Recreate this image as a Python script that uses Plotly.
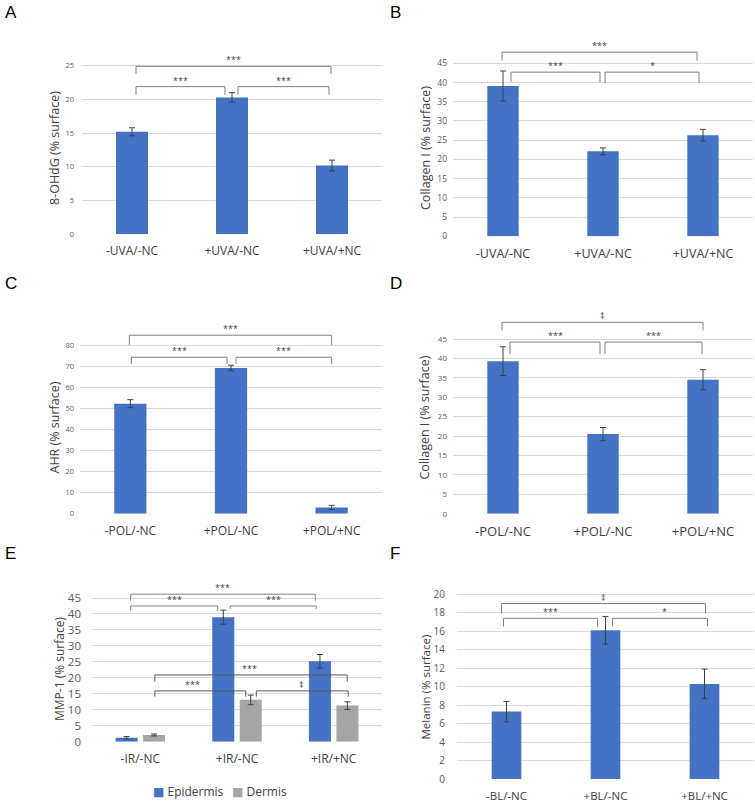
"""Six-panel bar chart with significance brackets."""

import plotly.graph_objects as go

FIG_W, FIG_H = 755, 803
BLUE = "#4472C4"
GREY = "#A5A5A5"
ERR_COLOR = "#404040"
GRID = "#D9D9D9"
TEXT = "#404040"
TICK = "#595959"
FONT = "Open Sans, DejaVu Sans, sans-serif"

# ---------------- data ----------------
uva_cats = ["-UVA/-NC", "+UVA/-NC", "+UVA/+NC"]
ohdg_vals = [15.2, 20.3, 10.2]
ohdg_err = [0.6, 0.7, 0.8]

col_uva_vals = [39.1, 22.1, 26.3]
col_uva_err = [3.9, 0.9, 1.5]

pol_cats = ["-POL/-NC", "+POL/-NC", "+POL/+NC"]
ahr_vals = [52.4, 69.4, 3.0]
ahr_err = [1.9, 1.3, 1.0]

col_pol_vals = [39.3, 20.5, 34.5]
col_pol_err = [3.7, 1.7, 2.6]

ir_cats = ["-IR/-NC", "+IR/-NC", "+IR/+NC"]
mmp_epi_vals = [1.2, 39.0, 25.2]
mmp_epi_err = [0.4, 2.2, 2.1]
mmp_derm_vals = [2.1, 13.1, 11.3]
mmp_derm_err = [0.3, 1.5, 1.2]
mmp_series = ["Epidermis", "Dermis"]

bl_cats = ["-BL/-NC", "+BL/-NC", "+BL/+NC"]
melanin_vals = [7.3, 16.1, 10.3]
melanin_err = [1.1, 1.5, 1.6]

# significance brackets: (x0, x1, y_line, y_left_end, y_right_end, label, label_x)
brackets_a = [
    (0.04, 1.99, 24.9, 23.8, 23.8, "***", None),
    (0.04, 0.93, 21.9, 20.7, 20.7, "***", None),
    (1.06, 1.97, 21.9, 20.7, 20.7, "***", None),
]
brackets_b = [
    (-0.01, 1.94, 47.9, 45.7, 45.7, "***", None),
    (0.08, 0.97, 42.7, 40.1, 40.1, "***", None),
    (1.02, 1.96, 42.7, 39.8, 39.8, "*", None),
]
brackets_c = [
    (-0.01, 2.0, 85.0, 80.3, 80.3, "***", None),
    (0.01, 0.96, 74.5, 71.3, 71.3, "***", None),
    (1.05, 2.0, 74.5, 71.3, 71.3, "***", None),
]
brackets_d = [
    (-0.01, 2.0, 49.3, 47.2, 47.2, "‡", None),
    (0.07, 0.97, 44.2, 41.1, 41.1, "***", None),
    (1.02, 1.99, 44.2, 41.1, 41.1, "***", None),
]
brackets_e = [
    (-0.10, 1.81, 46.2, 44.2, 44.2, "***", None),
    (-0.10, 0.80, 42.5, 41.0, 41.0, "***", None),
    (0.93, 1.82, 42.5, 41.6, 41.6, "***", None),
]
brackets_e_dermis = [
    (0.15, 2.14, 20.9, 18.8, 18.8, "***", 1.13),
    (0.15, 1.09, 15.9, 14.1, 14.1, "***", 0.54),
    (1.20, 2.15, 15.9, 14.1, 14.1, "‡", 1.67),
]
brackets_f = [
    (-0.05, 2.01, 19.0, 17.9, 17.9, "‡", None),
    (-0.03, 0.92, 17.4, 16.5, 16.5, "***", 0.44),
    (1.07, 2.03, 17.4, 16.5, 16.5, "*", 1.6),
]

# ---------------- layout (pixels) ----------------
PANELS = [
    dict(letter="A", cats=uva_cats, xdom=(82, 382), y0=234.3, tick_px=65.7, tmax=25, dt=5,
         top=30, tfs=7.5, xfs=12, title="8-OHdG (% surface)", title_x=55, title_y=148,
         title_fs=12.5, standoff=7, letter_x=3, letter_y=13),
    dict(letter="B", cats=uva_cats, xdom=(453, 753), y0=236.3, tick_px=63.3, tmax=45, dt=5,
         top=30, tfs=8.5, xfs=12.5, title="Collagen I (% surface)", title_x=425.5, title_y=148.5,
         title_fs=12.5, standoff=5, letter_x=388, letter_y=13),
    dict(letter="C", cats=pol_cats, xdom=(80, 382), y0=513.7, tick_px=345.7, tmax=80, dt=10,
         top=305, tfs=7.5, xfs=12, title="AHR (% surface)", title_x=54, title_y=427.5,
         title_fs=12.5, standoff=5, letter_x=3, letter_y=283),
    dict(letter="D", cats=pol_cats, xdom=(453, 753), y0=513.7, tick_px=339, tmax=45, dt=5,
         top=305, tfs=8, xfs=13, title="Collagen I (% surface)", title_x=424, title_y=417.5,
         title_fs=12.5, standoff=5, letter_x=388, letter_y=283),
    dict(letter="E", cats=ir_cats, xdom=(92, 382), y0=741.7, tick_px=598, tmax=45, dt=5,
         top=575, tfs=11.5, xfs=12, title="MMP-1 (% surface)", title_x=59, title_y=669,
         title_fs=12, standoff=10, letter_x=3, letter_y=553),
    dict(letter="F", cats=bl_cats, xdom=(457, 754), y0=779, tick_px=594.3, tmax=20, dt=2,
         top=575, tfs=10, xfs=11.5, title="Melanin (% surface)", title_x=424.5, title_y=687,
         title_fs=11.5, standoff=11, letter_x=388, letter_y=553),
]


def px_x(px):
    return px / FIG_W


def px_y(px):
    return 1 - px / FIG_H


def axis_names(n):
    sfx = "" if n == 1 else str(n)
    return f"xaxis{sfx}", f"yaxis{sfx}", f"x{sfx}", f"y{sfx}"


def add_bar(fig, n, vals, err, color, width, offset=None, name=None):
    _, _, xr, yr = axis_names(n)
    fig.add_trace(go.Bar(
        x=[0, 1, 2], y=vals, xaxis=xr, yaxis=yr, width=width, offset=offset,
        name=name, showlegend=False,
        marker=dict(color=color, line=dict(width=0)),
        error_y=dict(type="data", array=err, color=ERR_COLOR, thickness=1, width=3),
    ))


def add_brackets(fig, n, brackets, color="#7F7F7F"):
    _, _, xr, yr = axis_names(n)
    for x0, x1, y, yl, yr_end, label, lx in brackets:
        fig.add_shape(type="path", xref=xr, yref=yr,
                      path=f"M{x0},{yl} L{x0},{y} L{x1},{y} L{x1},{yr_end}",
                      line=dict(color=color, width=1))
        fig.add_annotation(x=lx if lx is not None else (x0 + x1) / 2, y=y, xref=xr, yref=yr,
                           text=label, showarrow=False, yanchor="bottom", yshift=-2,
                           font=dict(size=9, color=TEXT, family=FONT))


fig = go.Figure()

add_bar(fig, 1, ohdg_vals, ohdg_err, BLUE, 0.32)
add_bar(fig, 2, col_uva_vals, col_uva_err, BLUE, 0.314)
add_bar(fig, 3, ahr_vals, ahr_err, BLUE, 0.32)
add_bar(fig, 4, col_pol_vals, col_pol_err, BLUE, 0.314)
add_bar(fig, 5, mmp_epi_vals, mmp_epi_err, BLUE, 0.228, offset=-0.256, name=mmp_series[0])
add_bar(fig, 5, mmp_derm_vals, mmp_derm_err, GREY, 0.228, offset=0.028, name=mmp_series[1])
add_bar(fig, 6, melanin_vals, melanin_err, BLUE, 0.30)

add_brackets(fig, 1, brackets_a)
add_brackets(fig, 2, brackets_b)
add_brackets(fig, 3, brackets_c)
add_brackets(fig, 4, brackets_d)
add_brackets(fig, 5, brackets_e)
add_brackets(fig, 5, brackets_e_dermis, color="#595959")
add_brackets(fig, 6, brackets_f)

for n, p in enumerate(PANELS, start=1):
    xa, ya, xr, yr = axis_names(n)
    rtop = p["tmax"] * (p["y0"] - p["top"]) / (p["y0"] - p["tick_px"])
    fig.update_layout({
        xa: dict(domain=[px_x(p["xdom"][0]), px_x(p["xdom"][1])], anchor=yr,
                 range=[-0.5, 2.5], tickvals=[0, 1, 2], ticktext=p["cats"],
                 showgrid=False, zeroline=False, showline=False, ticks="",
                 ticklabelstandoff=8, automargin=False,
                 tickfont=dict(size=p["xfs"], color=TEXT, family=FONT)),
        ya: dict(domain=[px_y(p["y0"]), px_y(p["top"])], anchor=xr,
                 range=[0, rtop], tickvals=list(range(0, p["tmax"] + 1, p["dt"])),
                 showgrid=True, gridcolor=GRID, gridwidth=1, zeroline=False,
                 showline=False, ticks="", ticklabelstandoff=p["standoff"], automargin=False,
                 tickfont=dict(size=p["tfs"], color=TICK, family=FONT)),
    })
    fig.add_annotation(x=px_x(p["title_x"]), y=px_y(p["title_y"]), xref="paper", yref="paper",
                       text=p["title"], textangle=-90, showarrow=False,
                       xanchor="center", yanchor="middle",
                       font=dict(size=p["title_fs"], color=TEXT, family=FONT))
    fig.add_annotation(x=px_x(p["letter_x"]), y=px_y(p["letter_y"]), xref="paper", yref="paper",
                       text=p["letter"], showarrow=False, xanchor="left", yanchor="middle",
                       font=dict(size=17, color="#000000", family="Liberation Sans, Arial, sans-serif"))

# legend for panel E
for name, color, lx in [(mmp_series[0], BLUE, 151), (mmp_series[1], GREY, 230)]:
    fig.add_annotation(x=px_x(lx), y=px_y(791), xref="paper", yref="paper",
                       text=f"<span style='color:{color}'>■</span> {name}",
                       showarrow=False, xanchor="left", yanchor="middle",
                       font=dict(size=12, color=TEXT, family=FONT))

fig.update_layout(
    width=FIG_W, height=FIG_H,
    margin=dict(l=0, r=0, t=0, b=0, autoexpand=False),
    paper_bgcolor="white", plot_bgcolor="white",
    barmode="overlay",
    showlegend=False,
)

fig.write_html("out.html", config={"displayModeBar": False},
               post_script="document.body.style.margin='0';")
